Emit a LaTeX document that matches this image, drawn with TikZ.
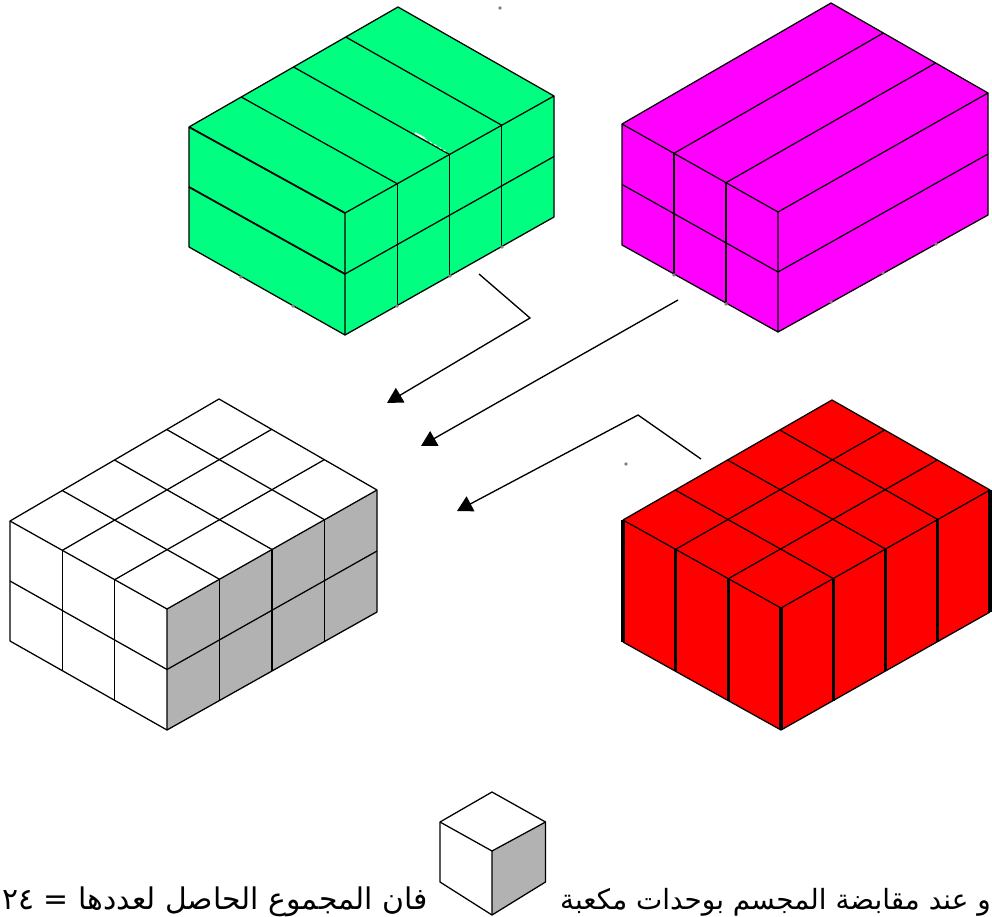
\documentclass[tikz,border=0pt]{standalone}
\usepackage{fontspec}
\usepackage{tikz}
\usetikzlibrary{arrows.meta,calc}
\TeXXeTstate=1
\newfontfamily\arabicfont[Script=Arabic]{DejaVu Sans}
\definecolor{slabgreen}{HTML}{00FF80}
\definecolor{slabmagenta}{HTML}{FF00FF}
\definecolor{slabred}{HTML}{FF0000}
\definecolor{sidegray}{HTML}{B2B2B2}
\tikzset{
  edge/.style={draw=black, line width=0.95pt, line join=round},
  heavyedge/.style={edge, line width=1.35pt},
  thickedge/.style={draw=black, line width=2.3pt},
  flow/.style={-{Triangle[length=11.5pt, width=12.5pt]}, line width=1pt, draw=black, line join=miter},
  speck/.style={fill=black!50},
  sentence/.style={font=\arabicfont\fontsize{22.4}{26}\selectfont, inner sep=0pt, anchor=base},
}
\begin{document}
\begin{tikzpicture}[x=0.75pt,y=-0.75pt]
\useasboundingbox (0,0) rectangle (992,917);
% green block: four strips over two layers
\coordinate (gL) at (189,127); \coordinate (gF) at (345,213); \coordinate (gR) at (554,96); \coordinate (gB) at (398,7);
\coordinate (gl) at (189,247); \coordinate (gf) at (345,335); \coordinate (gr) at (554,217);
\fill[slabgreen] (gL) -- (gB) -- (gR) -- (gr) -- (gf) -- (gl) -- cycle;
\foreach \t in {0.25,0.5,0.75} {
  \draw[edge] ($(gF)!\t!(gR)$) -- ($(gL)!\t!(gB)$);
  \draw[edge] ($(gF)!\t!(gR)$) -- ($(gf)!\t!(gr)$);
}
\draw[heavyedge] ($(gL)!0.5!(gl)$) -- ($(gF)!0.5!(gf)$);
\draw[edge] ($(gF)!0.5!(gf)$) -- ($(gR)!0.5!(gr)$);
\draw[edge] (gL) -- (gB) -- (gR) -- (gr) -- (gf) -- (gl) -- cycle;
\draw[heavyedge] (gL) -- (gF);
\draw[edge] (gF) -- (gR) (gF) -- (gf);
% broken stretch of the middle divider
\draw[white, line width=1.3pt] (415,133) -- (425,138.5);
\draw[white, line width=0.6pt, dash pattern=on 2pt off 2pt] (425,139) -- (447,152);
% magenta block: three strips over two layers
\coordinate (mL) at (622,124); \coordinate (mF) at (778,212); \coordinate (mR) at (988,93); \coordinate (mB) at (831,3);
\coordinate (ml) at (622,245); \coordinate (mf) at (778,332); \coordinate (mr) at (988,215);
\fill[slabmagenta] (mL) -- (mB) -- (mR) -- (mr) -- (mf) -- (ml) -- cycle;
\foreach \t in {0.3333,0.6667} {
  \draw[edge] ($(mL)!\t!(mF)$) -- ($(mB)!\t!(mR)$);
  \draw[edge] ($(mL)!\t!(mF)$) -- ($(ml)!\t!(mf)$);
}
\draw[edge] ($(mL)!0.5!(ml)$) -- ($(mF)!0.5!(mf)$) -- ($(mR)!0.5!(mr)$);
\draw[edge] (mL) -- (mB) -- (mR) -- (mr) -- (mf) -- (ml) -- cycle;
\draw[edge] (mL) -- (mF) -- (mR) (mF) -- (mf);
% white block: unit cubes, gray on the right
\coordinate (wL) at (10,521); \coordinate (wF) at (167,609); \coordinate (wR) at (377,490); \coordinate (wB) at (219,399);
\coordinate (wl) at (10,641); \coordinate (wf) at (167,730); \coordinate (wr) at (377,612);
\fill[sidegray] (wF) -- (wR) -- (wr) -- (wf) -- cycle;
\foreach \t in {0.25,0.5,0.75} {
  \draw[edge] ($(wF)!\t!(wR)$) -- ($(wL)!\t!(wB)$);
  \draw[edge] ($(wF)!\t!(wR)$) -- ($(wf)!\t!(wr)$);
}
\foreach \t in {0.3333,0.6667} {
  \draw[edge] ($(wL)!\t!(wF)$) -- ($(wB)!\t!(wR)$);
  \draw[edge] ($(wL)!\t!(wF)$) -- ($(wl)!\t!(wf)$);
}
\draw[edge] ($(wL)!0.5!(wl)$) -- ($(wF)!0.5!(wf)$) -- ($(wR)!0.5!(wr)$);
\draw[edge] (wL) -- (wB) -- (wR) -- (wr) -- (wf) -- (wl) -- cycle;
\draw[edge] (wL) -- (wF) -- (wR) (wF) -- (wf);
% red block: columns only, heavy uprights
\coordinate (rL) at (623,520); \coordinate (rF) at (781,608); \coordinate (rR) at (990,490); \coordinate (rB) at (832,400);
\coordinate (rl) at (623,642); \coordinate (rf) at (781,730); \coordinate (rr) at (990,612);
\fill[slabred] (rL) -- (rB) -- (rR) -- (rr) -- (rf) -- (rl) -- cycle;
\foreach \t in {0.25,0.5,0.75} {
  \draw[edge] ($(rF)!\t!(rR)$) -- ($(rL)!\t!(rB)$);
  \draw[thickedge] ($(rF)!\t!(rR)$) -- ($(rf)!\t!(rr)$);
}
\foreach \t in {0.3333,0.6667} {
  \draw[edge] ($(rL)!\t!(rF)$) -- ($(rB)!\t!(rR)$);
  \draw[thickedge] ($(rL)!\t!(rF)$) -- ($(rl)!\t!(rf)$);
}
\draw[edge] (rL) -- (rB) -- (rR) (rr) -- (rf) -- (rl) (rL) -- (rF) -- (rR);
\draw[thickedge] (rL) -- (rl) (rF) -- (rf) (rR) -- (rr);
% unit cube
\coordinate (uT) at (492,792); \coordinate (uL) at (440,822); \coordinate (uF) at (492,851); \coordinate (uR) at (545.5,822);
\coordinate (ul) at (440,882); \coordinate (uf) at (492,915); \coordinate (ur) at (545.5,882);
\fill[sidegray] (uF) -- (uR) -- (ur) -- (uf) -- cycle;
\draw[edge] (uL) -- (uT) -- (uR) -- (ur) -- (uf) -- (ul) -- cycle;
\draw[edge] (uL) -- (uF) -- (uR) (uF) -- (uf);
% arrows
\coordinate (a1s) at (479,274); \coordinate (a1k) at (530,318); \coordinate (a1e) at (387,403);
\coordinate (a2s) at (678,300); \coordinate (a2e) at (421,446);
\coordinate (a3s) at (701,459); \coordinate (a3k) at (638,415); \coordinate (a3e) at (457,511);
\draw[flow] (a1s) -- (a1k) -- (a1e);
\draw[flow] (a2s) -- (a2e);
\draw[flow] (a3s) -- (a3k) -- (a3e);
% stray specks
\foreach \p in {(500,8),(626,464),(241,277),(293,306),(397,306),(450,276),(502,247),(674,275),(726,304),(831,302),(883,273),(936,244)}
  \fill[speck] \p circle (1.8);
% sentence, right half runs up to the page edge
\node[sentence, anchor=base east] (lefttext) at (428,909) {\beginR فان المجموع الحاصل لعددها = \beginL ٢٤\endL{}\endR};
\node[sentence, anchor=base east, font=\arabicfont\fontsize{20.9}{26}\selectfont] (righttext) at (991,909) {\beginR و عند مقابضة المجسم بوحدات مكعبة\endR};
\end{tikzpicture}
\end{document}
